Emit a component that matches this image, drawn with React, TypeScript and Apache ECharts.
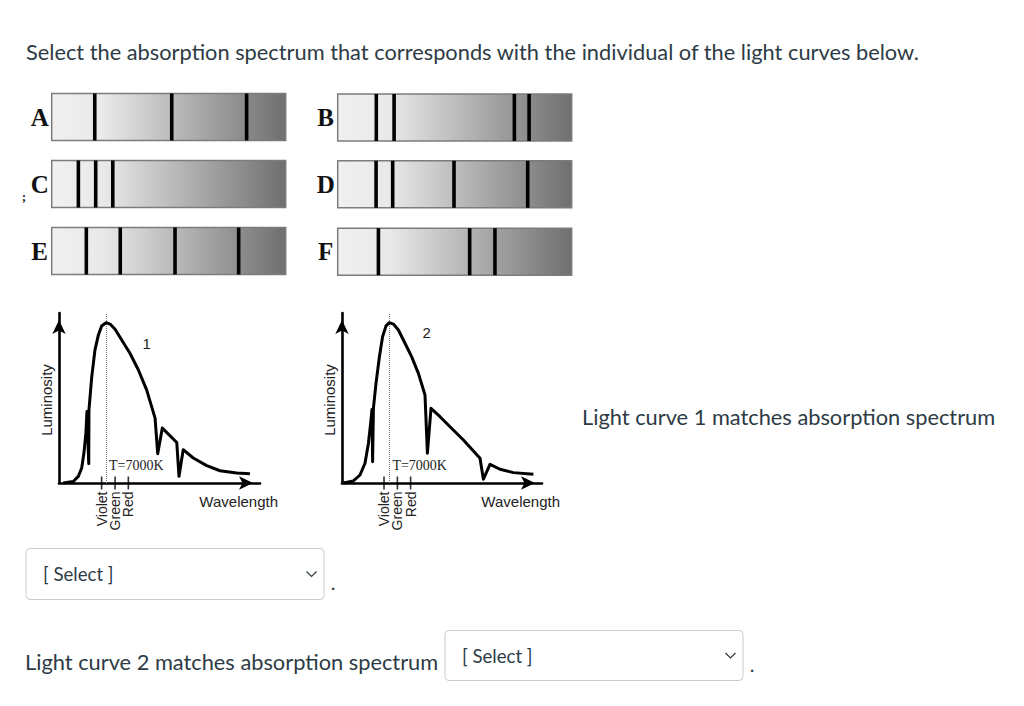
import React, { useEffect, useRef } from 'react';
import * as echarts from 'echarts';

const W = 1024;
const H = 706;
const UI_COLOR = '#2d3b45';
const UI_FONT = 'Lato, "Noto Sans", sans-serif';
const SANS = '"Liberation Sans", Arial, sans-serif';
const SERIF = '"Liberation Serif", "Times New Roman", serif';

// ---- texts ----
const titleText = 'Select the absorption spectrum that corresponds with the individual of the light curves below.';
const question1 = 'Light curve 1 matches absorption spectrum';
const question2 = 'Light curve 2 matches absorption spectrum';
const selectText = '[ Select ]';

// ---- absorption spectra (line positions as fraction of the visible band) ----
const spectrumNames = ['A', 'B', 'C', 'D', 'E', 'F'];
const linesA = [0.184, 0.513, 0.833];
const linesB = [0.165, 0.241, 0.755, 0.818];
const linesC = [0.114, 0.188, 0.261];
const linesD = [0.164, 0.235, 0.497, 0.812];
const linesE = [0.148, 0.293, 0.527, 0.799];
const linesF = [0.174, 0.564, 0.672];
const spectrumLines = [linesA, linesB, linesC, linesD, linesE, linesF];

// ---- light curves (wavelength 0-100, luminosity 0-100) ----
const curve1Wavelength = [2.1, 7.1, 9.6, 11.3, 12.4, 13.4, 13.9, 14.8, 14.9, 16.3, 17.9, 19.6, 21.2, 23.4, 25.4, 27.9, 31.2, 35.3, 39.5, 43.6, 47.8, 49.1, 51.4, 58.6, 59.7, 61.8, 66.8, 73.5, 80.1, 88.4, 95.0];
const curve1Luminosity = [0, 0.9, 3.9, 8.8, 17.6, 29.4, 42.0, 11.3, 43.0, 62.6, 78.3, 87.1, 92.4, 94.3, 93.5, 90.4, 84.1, 76.3, 66.5, 54.8, 38.2, 17.2, 32.3, 23.8, 3.9, 19.6, 14.7, 10.2, 7.2, 5.9, 5.5];
const curve2Wavelength = [0.7, 5.7, 9.0, 11.5, 13.2, 14.5, 15.0, 15.3, 15.7, 17.0, 18.7, 20.3, 22.0, 23.7, 25.7, 28.2, 31.5, 34.8, 38.2, 41.5, 42.7, 44.5, 49.0, 54.0, 60.7, 69.0, 70.7, 74.0, 79.0, 85.7, 95.7];
const curve2Luminosity = [0, 1.2, 4.7, 11.6, 23.3, 37.1, 43.3, 12.5, 43.9, 58.6, 74.3, 86.1, 92.4, 94.3, 93.5, 90.0, 82.2, 74.3, 64.5, 51.8, 17.5, 43.9, 39.0, 33.1, 25.3, 14.5, 2.2, 11.0, 8.1, 6.1, 5.1];

const tickNames = ['Violet', 'Green', 'Red'];
const curve1Ticks = [21.2, 27.9, 34.5];
const curve2Ticks = [21.0, 27.7, 34.3];
const curve1Peak = 23.4;
const curve2Peak = 23.7;
const curveNames = ['1', '2'];
const temperatureLabel = 'T=7000K';

// layout (not data)
const spectrumBoxes = [
  { x: 51.7, y: 93.5 },
  { x: 337.7, y: 94 },
  { x: 51.7, y: 160.5 },
  { x: 337.7, y: 160.8 },
  { x: 51.7, y: 227.5 },
  { x: 337.7, y: 228.2 },
];
const BOX_W = 234;
const BOX_H = 47;

const axisCommon = (gridIndex: number) => ({
  type: 'value',
  gridIndex,
  min: 0,
  max: 100,
  axisLine: {
    show: true,
    symbol: ['none', 'arrow'],
    symbolSize: [10, 14],
    symbolOffset: [0, -7],
    lineStyle: { color: '#000', width: 2.6 },
  },
  axisTick: { show: false },
  axisLabel: { show: false },
  splitLine: { show: false },
});

function curveSeries(idx: number, xs: number[], ys: number[], peak: number) {
  return {
    type: 'line',
    xAxisIndex: idx,
    yAxisIndex: idx,
    data: xs.map((x, i) => [x, ys[i]]),
    symbol: 'none',
    smooth: false,
    lineStyle: { color: '#000', width: 3, join: 'round' },
    z: 5,
    clip: false,
    markLine: {
      silent: true,
      symbol: ['none', 'none'],
      label: { show: false },
      lineStyle: { type: 'dotted', color: '#777', width: 1 },
      data: [{ xAxis: peak }],
    },
  };
}

function tickSeries(idx: number, ticks: number[]) {
  return {
    type: 'scatter',
    xAxisIndex: idx,
    yAxisIndex: idx,
    data: ticks.map((t) => [t, 0]),
    symbol: 'rect',
    symbolSize: [1.6, 13],
    itemStyle: { color: '#000' },
    z: 6,
    silent: true,
  };
}

export default function App() {
  const ref = useRef<HTMLDivElement>(null);
  useEffect(() => {
    const chart = echarts.init(ref.current!, null, { renderer: 'svg', width: W, height: H });
    chart.setOption({
      animation: false,
      backgroundColor: '#ffffff',
      grid: [
        { left: 59, top: 313, width: 201, height: 170 },
        { left: 342, top: 313, width: 200, height: 170 },
      ],
      xAxis: [axisCommon(0), axisCommon(1)],
      yAxis: [axisCommon(0), axisCommon(1)],
      series: [
        curveSeries(0, curve1Wavelength, curve1Luminosity, curve1Peak),
        curveSeries(1, curve2Wavelength, curve2Luminosity, curve2Peak),
        tickSeries(0, curve1Ticks),
        tickSeries(1, curve2Ticks),
      ],
    });

    const els: any[] = [];
    // page texts
    els.push({ type: 'text', x: 26, y: 51, style: { text: titleText, fill: UI_COLOR, font: `21.8px ${UI_FONT}`, textVerticalAlign: 'middle' } });
    els.push({ type: 'text', x: 582, y: 416, style: { text: question1, fill: UI_COLOR, font: `21.8px ${UI_FONT}`, textVerticalAlign: 'middle' } });
    els.push({ type: 'text', x: 25, y: 661, style: { text: question2, fill: UI_COLOR, font: `21.8px ${UI_FONT}`, textVerticalAlign: 'middle' } });

    // spectra
    spectrumBoxes.forEach((b, i) => {
      els.push({
        type: 'rect',
        shape: { x: b.x, y: b.y, width: BOX_W, height: BOX_H },
        style: {
          fill: {
            type: 'linear', x: 0, y: 0, x2: 1, y2: 0,
            colorStops: [
              { offset: 0, color: '#f0f0f0' },
              { offset: 0.22, color: '#e9e9e9' },
              { offset: 1, color: '#6f6f6f' },
            ],
          },
          stroke: '#7c7c7c',
          lineWidth: 1.5,
        },
      });
      spectrumLines[i].forEach((f) => {
        els.push({
          type: 'rect',
          shape: { x: b.x + f * BOX_W - 1.8, y: b.y, width: 3.6, height: BOX_H },
          style: { fill: '#000' },
        });
      });
      els.push({
        type: 'text',
        x: b.x - 12,
        y: b.y + BOX_H / 2,
        style: { text: spectrumNames[i], fill: '#111', font: `bold 25px ${SERIF}`, textAlign: 'center', textVerticalAlign: 'middle' },
      });
    });
    els.push({ type: 'text', x: 24, y: 197, style: { text: ';', fill: '#111', font: `bold 12px ${SERIF}`, textAlign: 'center', textVerticalAlign: 'middle' } });

    // light-curve annotations
    const curveTicks = [curve1Ticks, curve2Ticks];
    [0, 1].forEach((gi) => {
      curveTicks[gi].forEach((t, k) => {
        const p = chart.convertToPixel({ gridIndex: gi } as any, [t, 0]) as number[];
        els.push({
          type: 'text',
          x: p[0],
          y: p[1] + 8.5,
          rotation: Math.PI / 2,
          style: { text: tickNames[k], fill: '#222', font: `14px ${SANS}`, textAlign: 'right', textVerticalAlign: 'middle' },
        });
      });
      const left = gi === 0 ? 59 : 342;
      const right = gi === 0 ? 260 : 542;
      els.push({ type: 'text', x: left - 12.5, y: 400, rotation: Math.PI / 2, style: { text: 'Luminosity', fill: '#222', font: `15px ${SANS}`, textAlign: 'center', textVerticalAlign: 'middle' } });
      els.push({ type: 'text', x: right + 18, y: 501, style: { text: 'Wavelength', fill: '#222', font: `15px ${SANS}`, textAlign: 'right', textVerticalAlign: 'middle' } });
      const tp = chart.convertToPixel({ gridIndex: gi } as any, [gi === 0 ? curve1Peak : curve2Peak, 0]) as number[];
      els.push({ type: 'text', x: tp[0] + 3, y: 465.5, style: { text: temperatureLabel, fill: '#222', font: `14px ${SERIF}`, textVerticalAlign: 'middle' } });
    });
    els.push({ type: 'text', x: 146.7, y: 343.5, style: { text: curveNames[0], fill: '#222', font: `15px ${SANS}`, textAlign: 'center', textVerticalAlign: 'middle' } });
    els.push({ type: 'text', x: 426.7, y: 332, style: { text: curveNames[1], fill: '#222', font: `15px ${SANS}`, textAlign: 'center', textVerticalAlign: 'middle' } });

    // select boxes
    const selects = [
      { x: 26, y: 548.5, w: 298, h: 51, dotX: 333, dotY: 582 },
      { x: 445, y: 630.5, w: 298, h: 50, dotX: 752, dotY: 664 },
    ];
    selects.forEach((s) => {
      els.push({ type: 'rect', shape: { x: s.x, y: s.y, width: s.w, height: s.h, r: 4 }, style: { fill: '#fff', stroke: '#c7cdd1', lineWidth: 1 } });
      els.push({ type: 'text', x: s.x + 17, y: s.y + s.h / 2, style: { text: selectText, fill: UI_COLOR, font: `18.6px ${UI_FONT}`, textVerticalAlign: 'middle' } });
      const cx = s.x + s.w - 12.5;
      const cy = s.y + s.h / 2;
      els.push({ type: 'polyline', shape: { points: [[cx - 5, cy - 2.5], [cx, cy + 2.5], [cx + 5, cy - 2.5]] }, style: { stroke: UI_COLOR, lineWidth: 1.2, fill: null } });
      els.push({ type: 'text', x: s.dotX, y: s.dotY, style: { text: '.', fill: UI_COLOR, font: `20px ${UI_FONT}`, textAlign: 'center', textVerticalAlign: 'middle' } });
    });

    chart.setOption({ graphic: { elements: els } });
    return () => chart.dispose();
  }, []);
  return <div ref={ref} style={{ position: 'absolute', left: 0, top: 0, width: W, height: H, background: '#fff' }} />;
}
